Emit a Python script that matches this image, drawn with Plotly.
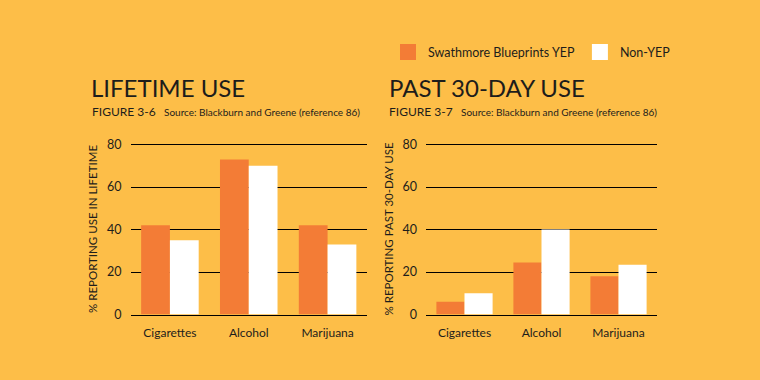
import plotly.graph_objects as go

categories = ["Cigarettes", "Alcohol", "Marijuana"]
series_names = ["Swathmore Blueprints YEP", "Non-YEP"]
lifetime_yep = [42, 73, 42]
lifetime_non = [35, 70, 33]
past30_yep = [6, 24.5, 18]
past30_non = [10, 40, 23.5]
y_ticks = [0, 20, 40, 60, 80]

BG = "#FDBE48"
ORANGE = "#F37C36"
WHITE = "#FFFFFF"
INK = "#1D1D1B"
FONT = "Lato"

W, H = 760, 380
def px(x):
    return x / W
def py(y):
    return 1 - y / H

fig = go.Figure()

fig.add_trace(go.Bar(x=categories, y=lifetime_yep, marker=dict(color=ORANGE, line=dict(width=0)),
                     xaxis="x", yaxis="y", showlegend=False, name=series_names[0]))
fig.add_trace(go.Bar(x=categories, y=lifetime_non, marker=dict(color=WHITE, line=dict(width=0)),
                     xaxis="x", yaxis="y", showlegend=False, name=series_names[1]))
fig.add_trace(go.Bar(x=categories, y=past30_yep, marker=dict(color=ORANGE, line=dict(width=0)),
                     xaxis="x2", yaxis="y2", showlegend=False, name=series_names[0]))
fig.add_trace(go.Bar(x=categories, y=past30_non, marker=dict(color=WHITE, line=dict(width=0)),
                     xaxis="x2", yaxis="y2", showlegend=False, name=series_names[1]))

# legend entries with large square swatches
for name, col in zip(series_names, [ORANGE, WHITE]):
    fig.add_trace(go.Scatter(x=[None], y=[None], mode="markers", name=name,
                             marker=dict(symbol="square", size=18, color=col, line=dict(width=0)),
                             xaxis="x2", yaxis="y2", showlegend=True))

ydom = [py(319.5), py(142.2)]
yrange = [0, 80.6]

xaxis_common = dict(
    type="category", showgrid=False, zeroline=False, showline=True,
    linecolor="black", linewidth=1.5, ticks="",
    tickfont=dict(family=FONT, size=12, color=INK), ticklabelstandoff=7,
    fixedrange=True,
)
yaxis_common = dict(
    range=yrange, tickvals=y_ticks, showgrid=True, gridcolor="black", gridwidth=1,
    zeroline=False, showline=False, ticks="",
    tickfont=dict(family=FONT, size=12.5, color=INK), ticklabelstandoff=8,
    domain=ydom, fixedrange=True,
)

fig.update_layout(
    width=W, height=H,
    paper_bgcolor=BG, plot_bgcolor=BG,
    margin=dict(l=0, r=0, t=0, b=0),
    barmode="group", bargap=0.27, bargroupgap=0,
    font=dict(family=FONT, color=INK),
    xaxis=dict(domain=[px(130.5), px(367)], anchor="y", **xaxis_common),
    xaxis2=dict(domain=[px(426), px(657)], anchor="y2", **xaxis_common),
    yaxis=dict(anchor="x",
               title=dict(text="% REPORTING USE IN LIFETIME", standoff=6,
                          font=dict(family=FONT, size=11.5, color=INK)),
               **yaxis_common),
    yaxis2=dict(anchor="x2",
                title=dict(text="% REPORTING PAST 30-DAY USE", standoff=6,
                           font=dict(family=FONT, size=11.5, color=INK)),
                **yaxis_common),
    legend=dict(orientation="h", x=px(388), xanchor="left", y=py(48), yanchor="middle",
                bgcolor="rgba(0,0,0,0)", font=dict(family=FONT, size=12.5, color=INK),
                itemsizing="trace", traceorder="normal"),
    showlegend=True,
)

annots = [
    dict(text="LIFETIME USE", x=px(89), y=py(84.5), size=24),
    dict(text="FIGURE 3-6", x=px(90), y=py(109), size=12),
    dict(text="Source: Blackburn and Greene (reference 86)", x=px(162), y=py(109.5), size=10),
    dict(text="PAST 30-DAY USE", x=px(387), y=py(84.5), size=24),
    dict(text="FIGURE 3-7", x=px(387), y=py(109), size=12),
    dict(text="Source: Blackburn and Greene (reference 86)", x=px(459), y=py(109.5), size=10),
]
for a in annots:
    fig.add_annotation(text=a["text"], x=a["x"], y=a["y"], xref="paper", yref="paper",
                       xanchor="left", yanchor="middle", showarrow=False,
                       font=dict(family=FONT, size=a["size"], color=INK))

fig.write_html("out.html", config={"displayModeBar": False, "staticPlot": True},
               post_script="document.body.style.margin='0';document.body.style.padding='0';")
